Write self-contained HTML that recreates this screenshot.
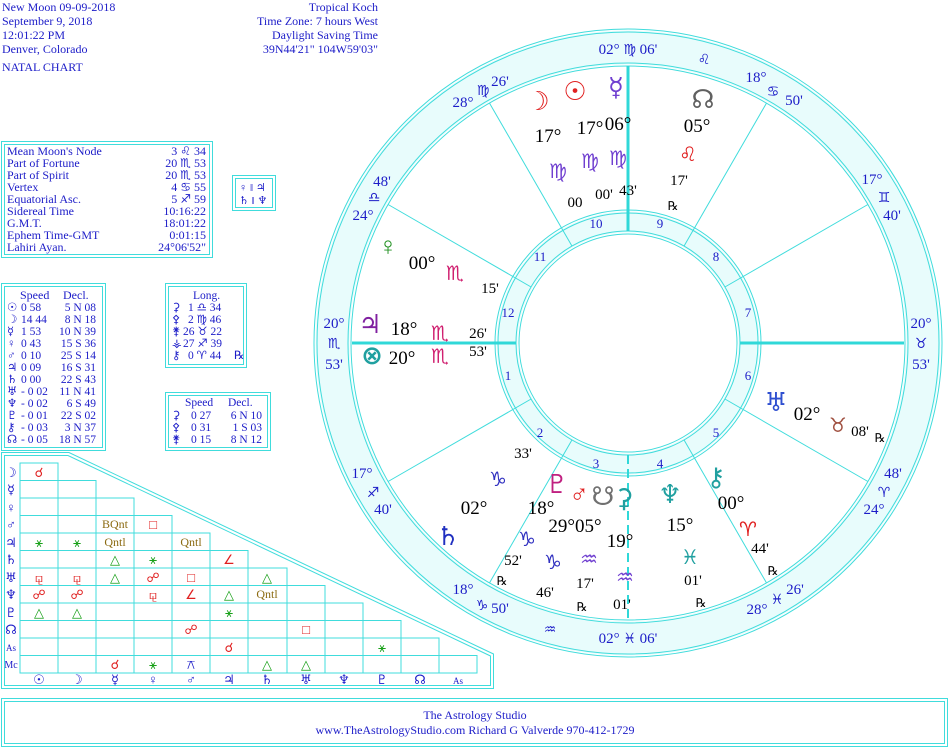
<!DOCTYPE html>
<html><head><meta charset="utf-8"><style>
body{margin:0;background:#fff;width:951px;height:750px;overflow:hidden}
svg{position:absolute;left:0;top:0}
text{font-family:"Liberation Serif","DejaVu Sans","DejaVu Serif",serif}
.b{fill:#1c1cc8}
.k{fill:#000}
.sy{font-family:"DejaVu Sans",sans-serif}
</style></head><body>
<svg width="951" height="750" viewBox="0 0 951 750">
<g class="b" font-size="12">
<text x="2" y="11">New Moon 09-09-2018</text>
<text x="2" y="25">September 9, 2018</text>
<text x="2" y="39">12:01:22 PM</text>
<text x="2" y="53">Denver, Colorado</text>
<text x="2" y="71">NATAL CHART</text>
<text x="378" y="11" text-anchor="end">Tropical Koch</text>
<text x="378" y="25" text-anchor="end">Time Zone: 7 hours West</text>
<text x="378" y="39" text-anchor="end">Daylight Saving Time</text>
<text x="378" y="53" text-anchor="end">39N44'21"  104W59'03"</text>
</g>
<g fill="none" stroke="#40dcdc" stroke-width="1">
<rect x="1.5" y="141.5" width="211" height="116"/><rect x="4.5" y="144.5" width="205" height="110"/>
<rect x="232.5" y="175.5" width="43" height="35"/><rect x="235.5" y="178.5" width="37" height="29"/>
<rect x="1.5" y="283.5" width="104" height="167"/><rect x="4.5" y="286.5" width="98" height="161"/>
<rect x="165.5" y="283.5" width="81" height="84"/><rect x="168.5" y="286.5" width="75" height="78"/>
<rect x="165.5" y="392.5" width="105" height="58"/><rect x="168.5" y="395.5" width="99" height="52"/>
<rect x="1.5" y="698.5" width="946" height="48"/><rect x="4.5" y="701.5" width="940" height="42"/>
<polygon points="1.5,452.5 69,452.5 493.5,654 493.5,688.5 1.5,688.5"/>
<polygon points="4.5,455.5 68,455.5 490.5,656 490.5,685.5 4.5,685.5"/>
</g>
<g class="b" font-size="12">
<text x="7" y="155">Mean Moon's Node</text><text x="206" y="155" text-anchor="end">3 ♌︎ 34</text>
<text x="7" y="167">Part of Fortune</text><text x="206" y="167" text-anchor="end">20 ♏︎ 53</text>
<text x="7" y="179">Part of Spirit</text><text x="206" y="179" text-anchor="end">20 ♏︎ 53</text>
<text x="7" y="191">Vertex</text><text x="206" y="191" text-anchor="end">4 ♋︎ 55</text>
<text x="7" y="203">Equatorial Asc.</text><text x="206" y="203" text-anchor="end">5 ♐︎ 59</text>
<text x="7" y="215">Sidereal Time</text><text x="206" y="215" text-anchor="end">10:16:22</text>
<text x="7" y="227">G.M.T.</text><text x="206" y="227" text-anchor="end">18:01:22</text>
<text x="7" y="239">Ephem Time-GMT</text><text x="206" y="239" text-anchor="end">0:01:15</text>
<text x="7" y="251">Lahiri Ayan.</text><text x="206" y="251" text-anchor="end">24°06'52"</text>
<text x="239" y="191" font-size="11">♀ ‖ ♃</text><text x="239" y="204" font-size="11">♄ ‖ ♆</text>
<text x="20" y="299">Speed</text><text x="63" y="299">Decl.</text>
</g>
<g class="b" font-size="11.5">
<text x="7" y="311">☉</text><text x="21" y="311">  0 58</text><text x="96" y="311" text-anchor="end">5 N 08</text>
<text x="7" y="323">☽</text><text x="21" y="323">14 44</text><text x="96" y="323" text-anchor="end">8 N 18</text>
<text x="7" y="335">☿</text><text x="21" y="335">  1 53</text><text x="96" y="335" text-anchor="end">10 N 39</text>
<text x="7" y="347">♀</text><text x="21" y="347">  0 43</text><text x="96" y="347" text-anchor="end">15 S 36</text>
<text x="7" y="359">♂</text><text x="21" y="359">  0 10</text><text x="96" y="359" text-anchor="end">25 S 14</text>
<text x="7" y="371">♃</text><text x="21" y="371">  0 09</text><text x="96" y="371" text-anchor="end">16 S 31</text>
<text x="7" y="383">♄</text><text x="21" y="383">  0 00</text><text x="96" y="383" text-anchor="end">22 S 43</text>
<text x="7" y="395">♅</text><text x="21" y="395">- 0 02</text><text x="96" y="395" text-anchor="end">11 N 41</text>
<text x="7" y="407">♆</text><text x="21" y="407">- 0 02</text><text x="96" y="407" text-anchor="end">6 S 49</text>
<text x="7" y="419">♇</text><text x="21" y="419">- 0 01</text><text x="96" y="419" text-anchor="end">22 S 02</text>
<text x="7" y="431">⚷</text><text x="21" y="431">- 0 03</text><text x="96" y="431" text-anchor="end">3 N 37</text>
<text x="7" y="443">☊</text><text x="21" y="443">- 0 05</text><text x="96" y="443" text-anchor="end">18 N 57</text>
<text x="193" y="299">Long.</text>
<text x="172" y="311">⚳</text><text x="188" y="311">1 ♎︎ 34</text>
<text x="172" y="323">⚴</text><text x="188" y="323">2 ♍︎ 46</text>
<text x="172" y="335">⚵</text><text x="183" y="335">26 ♉︎ 22</text>
<text x="172" y="347">⚶</text><text x="183" y="347">27 ♐︎ 39</text>
<text x="172" y="359">⚷</text><text x="188" y="359">0 ♈︎ 44</text><text x="234" y="359">℞</text>
<text x="185" y="406">Speed</text><text x="228" y="406">Decl.</text>
<text x="172" y="419">⚳</text><text x="191" y="419">0 27</text><text x="262" y="419" text-anchor="end">6 N 10</text>
<text x="172" y="431">⚴</text><text x="191" y="431">0 31</text><text x="262" y="431" text-anchor="end">1 S 03</text>
<text x="172" y="443">⚵</text><text x="191" y="443">0 15</text><text x="262" y="443" text-anchor="end">8 N 12</text>
</g>
<g class="b" font-size="12" text-anchor="middle">
<text x="475" y="719">The Astrology Studio</text>
<text x="475" y="734">www.TheAstrologyStudio.com   Richard G Valverde   970-412-1729</text>
</g>
<g fill="none" stroke="#40dcdc" stroke-width="1">
<path d="M20,463H58V480.5H96V498H134V515.5H172V533H210V550.5H248V568H287V585.5H325V603H363V620.5H401V638H439V655.5H477V673H20Z"/>
<path d="M20,480.5H58M20,498H96M20,515.5H134M20,533H172M20,550.5H210M20,568H248M20,585.5H287M20,603H325M20,620.5H363M20,638H401M20,655.5H439"/>
<path d="M58,480.5V673M96,498V673M134,515.5V673M172,533V673M210,550.5V673M248,568V673M287,585.5V673M325,603V673M363,620.5V673M401,638V673M439,655.5V673"/>
</g>
<g class="b sy" font-size="13" text-anchor="middle">
<text x="11" y="477">☽</text><text x="11" y="494">☿</text><text x="11" y="512">♀</text><text x="11" y="529">♂</text><text x="11" y="547">♃</text><text x="11" y="564">♄</text><text x="11" y="582">♅</text><text x="11" y="599">♆</text><text x="11" y="617">♇</text><text x="11" y="634">☊</text><text x="11" y="651" font-size="9">As</text><text x="11" y="668" font-size="10">Mc</text>
<text x="39" y="684">☉</text><text x="77" y="684">☽</text><text x="115" y="684">☿</text><text x="153" y="684">♀</text><text x="191" y="684">♂</text><text x="229" y="684">♃</text><text x="267" y="684">♄</text><text x="306" y="684">♅</text><text x="344" y="684">♆</text><text x="382" y="684">♇</text><text x="420" y="684">☊</text><text x="458" y="684" font-size="9">As</text>
</g>
<g font-size="13" text-anchor="middle" class="sy">
<g fill="#e02020">
<text x="39" y="477">☌</text><text x="153" y="529">□</text><text x="229" y="564">∠</text>
<text x="39" y="582">⚼</text><text x="77" y="582">⚼</text><text x="153" y="582">☍</text><text x="191" y="582">□</text>
<text x="39" y="599">☍</text><text x="77" y="599">☍</text><text x="153" y="599">⚼</text><text x="191" y="599">∠</text>
<text x="191" y="634">☍</text><text x="306" y="634">□</text><text x="229" y="652">☌</text><text x="115" y="669">☌</text>
</g>
<g fill="#18a018">
<text x="39" y="547">⚹</text><text x="77" y="547">⚹</text><text x="115" y="564">△</text><text x="153" y="564">⚹</text>
<text x="115" y="582">△</text><text x="267" y="582">△</text><text x="229" y="599">△</text>
<text x="39" y="617">△</text><text x="77" y="617">△</text><text x="229" y="617">⚹</text>
<text x="382" y="652">⚹</text><text x="153" y="669">⚹</text><text x="267" y="669">△</text><text x="306" y="669">△</text>
</g>
<text x="191" y="669" fill="#1c1cc8">⚻</text>
</g>
<g fill="#8b6a10" font-size="12" text-anchor="middle">
<text x="115" y="528">BQnt</text><text x="115" y="546">Qntl</text><text x="191" y="546">Qntl</text><text x="267" y="598">Qntl</text>
</g>
<g transform="translate(628,343)">
<circle r="312.5" fill="#e8fcfc"/>
<circle r="278.5" fill="#fff"/>
<circle r="131.5" fill="#e8fcfc"/>
<circle r="110.5" fill="#fff"/>
<g fill="none" stroke="#40dcdc" stroke-width="1">
<circle r="314"/><circle r="311"/><circle r="280"/><circle r="277"/>
<circle r="133"/><circle r="130"/><circle r="112"/><circle r="109"/>
<path d="M96.9,-56 L239.9,-138.5 M56,-96.9 L138.5,-239.9 M-56,-96.9 L-138.5,-239.9 M-96.9,-56 L-239.9,-138.5 M-96.9,56 L-239.9,138.5 M-56,96.9 L-138.5,239.9 M56,96.9 L138.5,239.9 M96.9,56 L239.9,138.5"/>
</g>
<g stroke="#30d8d8" stroke-width="3">
<path d="M-276,0H-112M112,0H276M0,-277V-112"/>
<path d="M0,112V277" stroke-dasharray="9,5" stroke-width="2"/>
</g>
</g>
<g class="b" font-size="13" text-anchor="middle">
<text x="596" y="228">10</text><text x="660" y="228">9</text><text x="540" y="261">11</text><text x="716" y="261">8</text>
<text x="508" y="317">12</text><text x="748" y="317">7</text><text x="508" y="380">1</text><text x="748" y="380">6</text>
<text x="540" y="437">2</text><text x="716" y="437">5</text><text x="596" y="468">3</text><text x="660" y="468">4</text>
</g>
<g class="b" font-size="15" text-anchor="middle">
<text x="628" y="54">02° <tspan class="sy" font-size="14">♍︎</tspan> 06'</text>
<text x="704" y="64" class="sy" font-size="14">♌︎</text>
<text x="756" y="82">18°</text><text x="773" y="96" font-size="14" class="sy">♋︎</text><text x="794" y="105">50'</text>
<text x="872" y="184">17°</text><text x="884" y="202" font-size="14" class="sy">♊︎</text><text x="892" y="220">40'</text>
<text x="921" y="328">20°</text><text x="921" y="348" font-size="14" class="sy">♉︎</text><text x="921" y="369">53'</text>
<text x="893" y="478">48'</text><text x="884" y="497" font-size="14" class="sy">♈︎</text><text x="874" y="514">24°</text>
<text x="795" y="594">26'</text><text x="777" y="604" font-size="14" class="sy">♓︎</text><text x="757" y="614">28°</text>
<text x="628" y="643">02° <tspan class="sy" font-size="14">♓︎</tspan> 06'</text>
<text x="550" y="634" font-size="14" class="sy">♒︎</text>
<text x="463" y="594">18°</text><text x="482" y="610" font-size="14" class="sy">♑︎</text><text x="500" y="613">50'</text>
<text x="362" y="478">17°</text><text x="373" y="497" font-size="14" class="sy">♐︎</text><text x="383" y="514">40'</text>
<text x="334" y="328">20°</text><text x="334" y="348" font-size="14" class="sy">♏︎</text><text x="334" y="369">53'</text>
<text x="382" y="186">48'</text><text x="374" y="202" font-size="14" class="sy">♎︎</text><text x="363" y="220">24°</text>
<text x="463" y="107">28°</text><text x="483" y="95" font-size="14" class="sy">♍︎</text><text x="500" y="86">26'</text>
</g>
<g font-size="26" text-anchor="middle" class="sy" font-weight="bold">
<text x="538" y="110" fill="#e02020">☽</text><text x="575" y="100" fill="#e02020">☉</text><text x="616" y="96" fill="#7040d0">☿</text>
<text x="703" y="108" fill="#606060">☊</text><text x="688" y="161" fill="#e02020" font-size="20">♌︎</text>
<text x="388" y="255" fill="#209020">♀</text><text x="370" y="333" fill="#8020a0">♃</text><text x="372" y="364" fill="#20a0a0">⊗</text>
<text x="776" y="411" fill="#3050d0">♅</text><text x="838" y="432" fill="#a05040" font-size="20">♉︎</text>
<text x="557" y="493" fill="#c02080">♇</text><text x="579" y="503" fill="#e02020">♂</text><text x="603" y="505" fill="#707070">☋</text><text x="624" y="507" fill="#20a0a0">⚳</text>
<text x="670" y="503" fill="#20a0a0">♆</text><text x="716" y="486" fill="#20a0a0">⚷</text><text x="748" y="536" fill="#e02020" font-size="20">♈︎</text>
<text x="690" y="564" fill="#20a0a0" font-size="20">♓︎</text><text x="448" y="545" fill="#2030c0">♄</text>
</g>
<g font-size="20" text-anchor="middle" class="sy" font-weight="bold">
<g fill="#7040d0"><text x="558" y="178">♍︎</text><text x="590" y="168">♍︎</text><text x="618" y="165">♍︎</text>
<text x="589" y="566">♒︎</text><text x="625" y="584">♒︎</text></g>
<g fill="#d02070"><text x="455" y="280">♏︎</text><text x="440" y="340">♏︎</text><text x="440" y="363">♏︎</text></g>
<g fill="#3030c0"><text x="498" y="486">♑︎</text><text x="527" y="546">♑︎</text><text x="553" y="569">♑︎</text></g>
</g>
<g class="k" font-size="19" text-anchor="middle">
<text x="548" y="142">17°</text><text x="590" y="134">17°</text><text x="618" y="130">06°</text>
<text x="697" y="132">05°</text>
<text x="422" y="269">00°</text><text x="404" y="335">18°</text><text x="402" y="364">20°</text>
<text x="807" y="420">02°</text><text x="474" y="514">02°</text><text x="541" y="514">18°</text>
<text x="575" y="532">29°05°</text><text x="620" y="547">19°</text><text x="680" y="531">15°</text><text x="731" y="509">00°</text>
</g>
<g class="k" font-size="15" text-anchor="middle">
<text x="575" y="207">00</text><text x="604" y="199">00'</text><text x="628" y="195">43'</text>
<text x="679" y="185">17'</text><text x="490" y="293">15'</text><text x="478" y="338">26'</text><text x="478" y="356">53'</text>
<text x="860" y="436">08'</text><text x="523" y="458">33'</text><text x="513" y="565">52'</text><text x="545" y="597">46'</text>
<text x="585" y="588">17'</text><text x="622" y="609">01'</text><text x="693" y="585">01'</text><text x="760" y="553">44'</text>
</g>
<g class="k" font-size="12" text-anchor="middle">
<text x="673" y="210">℞</text><text x="880" y="442">℞</text><text x="502" y="585">℞</text><text x="582" y="611">℞</text><text x="701" y="607">℞</text><text x="773" y="575">℞</text>
</g>
</svg>
</body></html>
